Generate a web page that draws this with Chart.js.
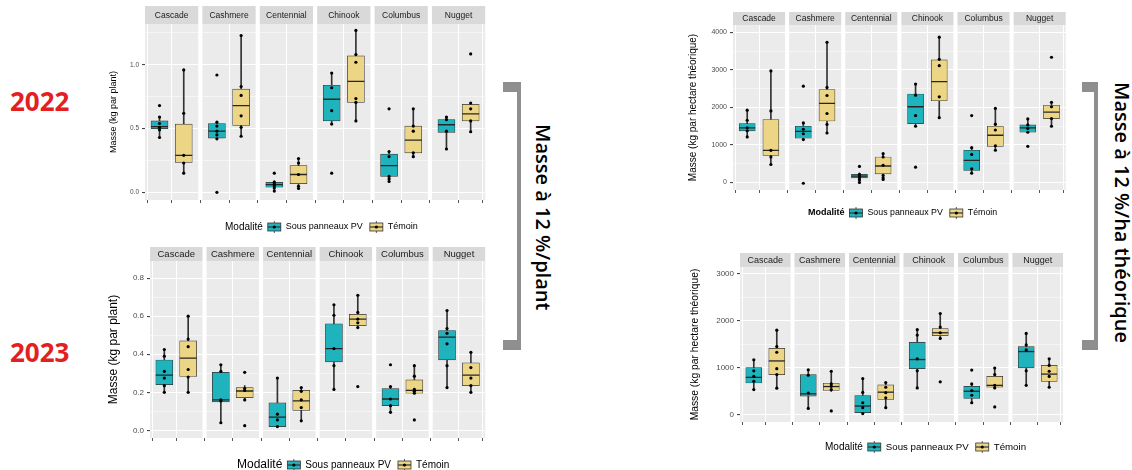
<!DOCTYPE html>
<html>
<head>
<meta charset="utf-8">
<title>Masse à 12 % - houblon</title>
<style>
  body { margin: 0; background: #fff; }
  #page { position: relative; width: 1132px; height: 470px; overflow: hidden; background: #fff; }
  .panel { position: absolute; }
  .year { position: absolute; left: 10px; font-family: "Noto Sans", sans-serif; font-weight: bold; font-size: 26px; line-height: 1; color: #e3201f; }
  .side { position: absolute; writing-mode: vertical-rl; font-family: "Open Sans", sans-serif; font-weight: 600; font-size: 20px; line-height: 1; color: #000; white-space: nowrap; }
  .br { position: absolute; background: #8f8f8f; }
</style>
</head>
<body>
<div id="page">
  <canvas id="p1" class="panel" width="390" height="235" style="left:105px;top:0px"></canvas>
  <canvas id="p2" class="panel" width="390" height="235" style="left:105px;top:235px"></canvas>
  <canvas id="p3" class="panel" width="395" height="235" style="left:680px;top:0px"></canvas>
  <canvas id="p4" class="panel" width="395" height="235" style="left:680px;top:235px"></canvas>

  <div class="year" style="top:88px">2022</div>
  <div class="year" style="top:339px">2023</div>

  <div class="br" style="left:517px;top:82px;width:4px;height:268px"></div>
  <div class="br" style="left:503px;top:82px;width:18px;height:10px"></div>
  <div class="br" style="left:503px;top:340px;width:18px;height:10px"></div>
  <div class="side" style="left:533px;top:124px">Masse à 12 %/plant</div>

  <div class="br" style="left:1094px;top:82px;width:4px;height:268px"></div>
  <div class="br" style="left:1082px;top:82px;width:16px;height:10px"></div>
  <div class="br" style="left:1082px;top:340px;width:16px;height:10px"></div>
  <div class="side" style="left:1112px;top:82px">Masse à 12 %/ha théorique</div>
</div>

<script src="https://cdn.jsdelivr.net/npm/chart.js"></script>
<script>
// facets and groups
const varieties = ['Cascade', 'Cashmere', 'Centennial', 'Chinook', 'Columbus', 'Nugget'];
const modalities = ['Sous panneaux PV', 'Témoin'];

// box stats per variety: [whisker low, Q1, median, Q3, whisker high]
// 2022, kg per plant
const plant22PvBox = [[0.43, 0.50, 0.515, 0.56, 0.59], [0.42, 0.425, 0.48, 0.54, 0.55], [0.01, 0.04, 0.06, 0.078, 0.09],
  [0.535, 0.56, 0.73, 0.84, 0.935], [0.085, 0.125, 0.21, 0.30, 0.32], [0.34, 0.47, 0.53, 0.57, 0.59]];
const plant22PvPts = [[0.68, 0.59, 0.54, 0.51, 0.49, 0.43], [0.92, 0.55, 0.52, 0.48, 0.45, 0.42, 0.0], [0.15, 0.08, 0.065, 0.05, 0.035, 0.01],
  [0.935, 0.82, 0.64, 0.535, 0.15], [0.655, 0.32, 0.28, 0.125, 0.105, 0.085], [0.59, 0.57, 0.48, 0.34]];
const plant22TemBox = [[0.15, 0.235, 0.29, 0.535, 0.96], [0.44, 0.525, 0.68, 0.81, 1.23], [0.03, 0.068, 0.14, 0.21, 0.265],
  [0.56, 0.705, 0.87, 1.07, 1.27], [0.28, 0.31, 0.41, 0.52, 0.655], [0.475, 0.56, 0.615, 0.69, 0.70]];
const plant22TemPts = [[0.96, 0.62, 0.29, 0.23, 0.15], [1.23, 0.83, 0.76, 0.60, 0.51, 0.44], [0.265, 0.23, 0.14, 0.047, 0.03],
  [1.27, 1.08, 1.02, 0.735, 0.705, 0.56], [0.655, 0.52, 0.48, 0.31, 0.28], [1.085, 0.70, 0.655, 0.56, 0.475]];

// 2023, kg per plant
const plant23PvBox = [[0.20, 0.24, 0.29, 0.37, 0.425], [0.04, 0.15, 0.16, 0.305, 0.345], [0.02, 0.02, 0.07, 0.145, 0.275],
  [0.215, 0.36, 0.43, 0.56, 0.66], [0.095, 0.13, 0.165, 0.22, 0.23], [0.225, 0.37, 0.49, 0.525, 0.63]];
const plant23PvPts = [[0.425, 0.39, 0.31, 0.275, 0.235, 0.20], [0.345, 0.31, 0.16, 0.155, 0.04], [0.275, 0.085, 0.055, 0.02],
  [0.66, 0.605, 0.43, 0.34, 0.215], [0.345, 0.23, 0.165, 0.13, 0.095], [0.63, 0.535, 0.51, 0.455, 0.34, 0.225]];
const plant23TemBox = [[0.20, 0.283, 0.38, 0.47, 0.60], [0.165, 0.172, 0.207, 0.225, 0.235], [0.05, 0.105, 0.155, 0.21, 0.225],
  [0.54, 0.55, 0.585, 0.61, 0.71], [0.195, 0.195, 0.21, 0.265, 0.34], [0.20, 0.235, 0.29, 0.355, 0.41]];
const plant23TemPts = [[0.60, 0.48, 0.44, 0.32, 0.28, 0.20], [0.305, 0.22, 0.21, 0.16, 0.025], [0.225, 0.205, 0.16, 0.12, 0.05],
  [0.71, 0.62, 0.585, 0.565, 0.54, 0.23], [0.34, 0.285, 0.215, 0.205, 0.195, 0.055], [0.41, 0.33, 0.275, 0.235, 0.20]];

// 2022, kg per theoretical hectare
const ha22PvBox = [[1215, 1375, 1455, 1570, 1930], [1145, 1180, 1365, 1500, 1590], [0, 125, 170, 215, 250],
  [1500, 1570, 2020, 2360, 2625], [250, 320, 590, 860, 930], [1340, 1340, 1455, 1535, 1695]];
const ha22PvPts = [[1930, 1660, 1460, 1380, 1215], [2570, 1590, 1420, 1300, 1145, -20], [430, 215, 175, 130, 70, 0],
  [2625, 2330, 1785, 1500, 410], [1785, 930, 750, 365, 250], [1695, 1535, 1440, 1340, 965]];
const ha22TemBox = [[480, 725, 857, 1680, 2975], [1320, 1640, 2110, 2480, 3740], [80, 230, 440, 680, 770],
  [1730, 2180, 2690, 3270, 3875], [860, 965, 1260, 1500, 1975], [1500, 1705, 1875, 2060, 2140]];
const ha22TemPts = [[2975, 1910, 857, 680, 480], [3740, 2535, 2320, 1840, 1550, 1320], [770, 680, 460, 190, 125, 80],
  [3875, 3285, 3115, 2285, 1730], [1975, 1555, 1400, 980, 860], [3340, 2140, 2020, 1705, 1500]];

// 2023, kg per theoretical hectare
const ha23PvBox = [[540, 680, 800, 1010, 1175], [140, 400, 450, 860, 960], [15, 50, 190, 415, 775],
  [575, 985, 1180, 1545, 1815], [260, 350, 505, 610, 660], [630, 1000, 1350, 1455, 1735]];
const ha23PvPts = [[1175, 940, 820, 715, 540], [960, 845, 465, 140], [775, 480, 260, 155, 30],
  [1815, 1700, 1195, 940, 575], [955, 660, 520, 420, 260], [1735, 1490, 1385, 940, 630]];
const ha23TemBox = [[570, 860, 1150, 1420, 1805], [500, 520, 605, 675, 930], [155, 330, 485, 640, 690],
  [1615, 1690, 1750, 1840, 2160], [560, 590, 630, 820, 1000], [590, 715, 870, 1055, 1195]];
const ha23TemPts = [[1805, 1455, 1335, 985, 860, 570], [930, 660, 610, 540, 85], [690, 590, 475, 365, 155],
  [2160, 1870, 1750, 1630, 705], [1000, 860, 630, 575, 170], [1195, 1055, 930, 820, 590]];

// y axis breaks
const plant22Ticks = [0, 0.5, 1.0], plant22Labels = ['0.0', '0.5', '1.0'], plant22Minor = [0.25, 0.75, 1.25];
const plant23Ticks = [0, 0.2, 0.4, 0.6, 0.8], plant23Labels = ['0.0', '0.2', '0.4', '0.6', '0.8'], plant23Minor = [0.1, 0.3, 0.5, 0.7];
const ha22Ticks = [0, 1000, 2000, 3000, 4000], ha22Labels = ['0', '1000', '2000', '3000', '4000'], ha22Minor = [500, 1500, 2500, 3500];
const ha23Ticks = [0, 1000, 2000, 3000], ha23Labels = ['0', '1000', '2000', '3000'], ha23Minor = [500, 1500, 2500];

const COLORS = ['#1fb3bd', '#ecd584'];
const FONT = 'Liberation Sans';
const STEP = 2.37, FW = 2.2;          // facet width 2.2 units (discrete range 0.4..2.6), gap 0.17
const XMAX = 5 * STEP + FW;
const xOf = (i, m) => i * STEP + 0.6 + m;

function drawKey(ctx, x, y, color) {
  ctx.strokeStyle = '#333';
  ctx.lineWidth = 0.8;
  ctx.beginPath(); ctx.moveTo(x + 7.5, y - 6); ctx.lineTo(x + 7.5, y + 6); ctx.stroke();
  ctx.fillStyle = color;
  ctx.fillRect(x + 1, y - 4, 13, 8);
  ctx.strokeRect(x + 1, y - 4, 13, 8);
  ctx.lineWidth = 1.2;
  ctx.beginPath(); ctx.moveTo(x + 1, y); ctx.lineTo(x + 14, y); ctx.stroke();
  ctx.fillStyle = '#000';
  ctx.beginPath(); ctx.arc(x + 7.5, y, 1.6, 0, Math.PI * 2); ctx.fill();
}

const facetPlugin = {
  id: 'facets',
  beforeDraw(chart, args, o) {
    const { ctx, chartArea: a, scales: { x } } = chart;
    ctx.save();
    varieties.forEach((name, i) => {
      const x0 = x.getPixelForValue(i * STEP), x1 = x.getPixelForValue(i * STEP + FW);
      ctx.fillStyle = '#ebebeb';
      ctx.fillRect(x0, a.top, x1 - x0, a.bottom - a.top);
      ctx.fillStyle = '#d9d9d9';
      ctx.fillRect(x0, a.top - o.stripH, x1 - x0, o.stripH);
      ctx.fillStyle = '#1a1a1a';
      ctx.font = o.stripSize + 'px "' + FONT + '"';
      ctx.textAlign = 'center';
      ctx.textBaseline = 'middle';
      ctx.fillText(name, (x0 + x1) / 2, a.top - o.stripH / 2 + 0.5);
    });
    ctx.restore();
  },
  afterDraw(chart, args, o) {
    const ctx = chart.ctx;
    const L = o.legend;
    let x = L.x;
    ctx.save();
    ctx.textBaseline = 'middle';
    ctx.textAlign = 'left';
    ctx.fillStyle = '#000';
    ctx.font = (L.bold ? 'bold ' : '') + L.titleSize + 'px "' + FONT + '"';
    ctx.fillText('Modalité', x, L.y);
    x += ctx.measureText('Modalité').width + 4;
    ctx.font = L.labelSize + 'px "' + FONT + '"';
    modalities.forEach((m, k) => {
      drawKey(ctx, x, L.y, COLORS[k]);
      x += 19;
      ctx.fillStyle = '#000';
      ctx.fillText(m, x, L.y);
      x += ctx.measureText(m).width + 6;
    });
    ctx.restore();
  }
};

function buildDatasets(pvBox, pvPts, temBox, temPts, bw) {
  const sets = [];
  [[pvBox, pvPts], [temBox, temPts]].forEach(([box, pts], m) => {
    sets.push({
      type: 'scatter', label: modalities[m], order: 0,
      data: pts.flatMap((vals, i) => vals.map(v => ({ x: xOf(i, m), y: v }))),
      pointRadius: 1.6, pointBackgroundColor: '#000', pointBorderWidth: 0
    });
    sets.push({
      type: 'scatter', label: modalities[m] + ' médiane', order: 1,
      data: box.map((b, i) => ({ x: xOf(i, m), y: b[2] })),
      pointStyle: 'line', pointRadius: bw / 2, pointBorderColor: '#262626', pointBorderWidth: 1.3
    });
    sets.push({
      type: 'bar', label: modalities[m] + ' boîte', order: 2, grouped: false, barThickness: bw,
      data: box.map((b, i) => ({ x: xOf(i, m), y: [b[1], b[3]] })),
      backgroundColor: COLORS[m], borderColor: '#333', borderWidth: 0.7, borderSkipped: false
    });
    sets.push({
      type: 'bar', label: modalities[m] + ' moustaches', order: 3, grouped: false, barThickness: 1,
      data: box.map((b, i) => ({ x: xOf(i, m), y: [b[0], b[4]] })),
      backgroundColor: '#333', borderWidth: 0
    });
  });
  return sets;
}

function makePanel(id, p) {
  const majors = p.ticks;
  const all = majors.concat(p.minor);
  const isMajor = v => majors.indexOf(v) >= 0;
  new Chart(document.getElementById(id), {
    type: 'bar',
    data: { datasets: buildDatasets(p.pvBox, p.pvPts, p.temBox, p.temPts, p.bw) },
    plugins: [facetPlugin],
    options: {
      responsive: false,
      animation: false,
      layout: { padding: p.pad },
      plugins: {
        legend: { display: false },
        tooltip: { enabled: false },
        facets: { stripH: p.stripH, stripSize: p.stripSize, legend: p.legend }
      },
      scales: {
        x: {
          type: 'linear', min: 0, max: XMAX, offset: false,
          afterBuildTicks: s => { s.ticks = varieties.flatMap((v, i) => [xOf(i, 0), xOf(i, 1)]).map(v => ({ value: v })); },
          afterFit: s => { s.height = 8; },
          ticks: { callback: () => '' },
          grid: { color: '#ffffff', lineWidth: 1, tickColor: '#555', tickLength: 3 },
          border: { display: false }
        },
        y: {
          min: p.yMin, max: p.yMax,
          afterBuildTicks: s => { s.ticks = all.slice().sort((a, b) => a - b).map(v => ({ value: v })); },
          afterFit: s => { s.width = p.yW; },
          ticks: {
            autoSkip: false, padding: 3, color: '#4d4d4d',
            font: { family: FONT, size: p.tickSize },
            callback: v => isMajor(v) ? p.labels[majors.indexOf(v)] : ''
          },
          grid: {
            color: '#ffffff',
            lineWidth: c => isMajor(c.tick.value) ? 1.1 : 0.5,
            tickColor: c => isMajor(c.tick.value) ? '#444' : 'rgba(0,0,0,0)',
            tickLength: 3
          },
          border: { display: false },
          title: {
            display: true, text: p.yTitle, color: '#000',
            font: { family: FONT, size: p.titleSize },
            padding: { top: p.titlePad, bottom: 0 }
          }
        }
      }
    }
  });
}

makePanel('p1', {
  pvBox: plant22PvBox, pvPts: plant22PvPts, temBox: plant22TemBox, temPts: plant22TemPts,
  ticks: plant22Ticks, labels: plant22Labels, minor: plant22Minor, yMin: -0.06, yMax: 1.32,
  yTitle: 'Masse (kg par plant)', bw: 17, yW: 40, pad: { left: 0, right: 7, top: 24, bottom: 27 },
  stripH: 18, stripSize: 8.5, tickSize: 6.5, titleSize: 9, titlePad: 3,
  legend: { x: 120, y: 227, titleSize: 10, labelSize: 9 }
});
makePanel('p2', {
  pvBox: plant23PvBox, pvPts: plant23PvPts, temBox: plant23TemBox, temPts: plant23TemPts,
  ticks: plant23Ticks, labels: plant23Labels, minor: plant23Minor, yMin: -0.04, yMax: 0.89,
  yTitle: 'Masse (kg par plant)', bw: 17, yW: 45, pad: { left: 0, right: 7, top: 26, bottom: 24 },
  stripH: 14, stripSize: 9.5, tickSize: 8, titleSize: 12, titlePad: 1,
  legend: { x: 132, y: 230, titleSize: 12, labelSize: 10 }
});
makePanel('p3', {
  pvBox: ha22PvBox, pvPts: ha22PvPts, temBox: ha22TemBox, temPts: ha22TemPts,
  ticks: ha22Ticks, labels: ha22Labels, minor: ha22Minor, yMin: -200, yMax: 4200,
  yTitle: 'Masse (kg par hectare théorique)', bw: 16, yW: 53, pad: { left: 0, right: 7, top: 25, bottom: 37 },
  stripH: 13, stripSize: 8.5, tickSize: 7, titleSize: 10, titlePad: 7,
  legend: { x: 128, y: 213, titleSize: 9, labelSize: 8.8, bold: true }
});
makePanel('p4', {
  pvBox: ha23PvBox, pvPts: ha23PvPts, temBox: ha23TemBox, temPts: ha23TemPts,
  ticks: ha23Ticks, labels: ha23Labels, minor: ha23Minor, yMin: -150, yMax: 3150,
  yTitle: 'Masse (kg par hectare théorique)', bw: 16, yW: 60, pad: { left: 0, right: 12, top: 32, bottom: 40 },
  stripH: 14, stripSize: 9, tickSize: 8, titleSize: 10.3, titlePad: 9,
  legend: { x: 145, y: 212, titleSize: 10, labelSize: 9.7 }
});
</script>
</body>
</html>
